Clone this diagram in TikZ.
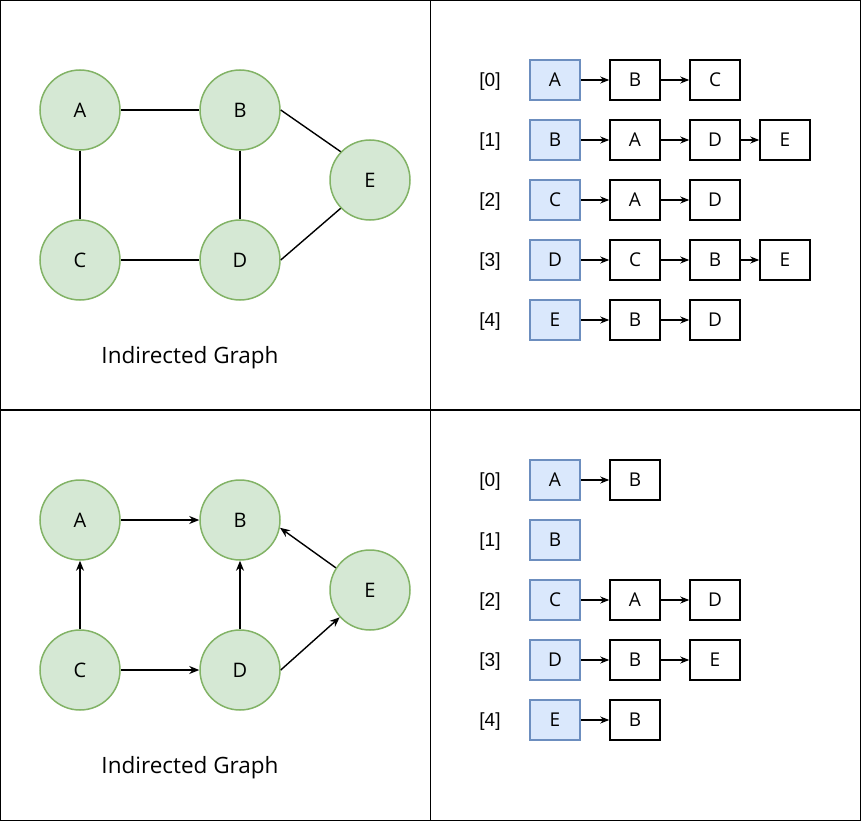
\documentclass[tikz,border=0pt]{standalone}
\usepackage{fontspec}
\setmainfont{Open Sans}
\newfontfamily\labfont{Liberation Sans}
\usetikzlibrary{arrows.meta}
\definecolor{gfill}{HTML}{D5E8D4}
\definecolor{gdraw}{HTML}{82B366}
\definecolor{bfill}{HTML}{DAE8FC}
\definecolor{bdraw}{HTML}{6C8EBF}
\tikzset{
  vert/.style={circle, minimum size=80pt, inner sep=0pt, fill=gfill, draw=gdraw, line width=1.5pt, font=\fontsize{20}{20}\selectfont},
  headbox/.style={rectangle, minimum width=50pt, minimum height=40pt, inner sep=0pt, fill=bfill, draw=bdraw, line width=1.5pt, font=\fontsize{19}{19}\selectfont},
  cellbox/.style={rectangle, minimum width=50pt, minimum height=40pt, inner sep=0pt, fill=white, draw=black, line width=1.5pt, font=\fontsize{19}{19}\selectfont},
  idx/.style={font=\labfont\fontsize{19}{19}\selectfont, inner sep=0pt, yshift=-2pt},
  captext/.style={font=\fontsize{22.5}{22.5}\selectfont, inner sep=0pt, yshift=-2pt},
  plainedge/.style={line width=1.4pt},
  darr/.style={line width=1.4pt, -{Stealth[length=10pt,width=8pt]}},
  larr/.style={line width=1.2pt, -{Stealth[length=9pt,width=7pt]}},
  frameline/.style={line width=1.3pt}
}
\begin{document}
\begin{tikzpicture}[x=1pt,y=-1pt]
\useasboundingbox (0,0) rectangle (861,821);
% frame
\draw[frameline] (0.7,0.7) rectangle (860.3,820.3);
\draw[frameline] (430.5,0.7) -- (430.5,820.3);
\draw[frameline] (0.7,410) -- (860.3,410);

% ---- top graph ----
\node[vert] (A1) at (80,110) {A};
\node[vert] (B1) at (240,110) {B};
\node[vert] (C1) at (80,260) {C};
\node[vert] (D1) at (240,260) {D};
\node[vert] (E1) at (370,180) {E};
\draw[plainedge] (A1) -- (B1);
\draw[plainedge] (A1) -- (C1);
\draw[plainedge] (B1) -- (D1);
\draw[plainedge] (C1) -- (D1);
\draw[plainedge] (B1.east) -- (E1.136);
\draw[plainedge] (D1.east) -- (E1.224);
\node[captext] (cap1) at (190,356) {Indirected Graph};

% ---- bottom graph ----
\node[vert] (A2) at (80,520) {A};
\node[vert] (B2) at (240,520) {B};
\node[vert] (C2) at (80,670) {C};
\node[vert] (D2) at (240,670) {D};
\node[vert] (E2) at (370,590) {E};
\draw[darr] (A2) -- (B2);
\draw[darr] (C2) -- (A2);
\draw[darr] (C2) -- (D2);
\draw[darr] (D2) -- (B2);
\draw[darr] (D2.east) -- (E2.222);
\draw[darr] (E2.147) -- (B2.-11);
\node[captext] (cap2) at (190,766) {Indirected Graph};

% ---- top lists ----
\node[idx] (i10) at (490,80) {[0]};
\node[headbox] (h10) at (555,80) {A};
\node[cellbox] (c10a) at (635,80) {B};
\node[cellbox] (c10b) at (715,80) {C};
\draw[larr] (h10) -- (c10a);
\draw[larr] (c10a) -- (c10b);

\node[idx] (i11) at (490,140) {[1]};
\node[headbox] (h11) at (555,140) {B};
\node[cellbox] (c11a) at (635,140) {A};
\node[cellbox] (c11b) at (715,140) {D};
\node[cellbox] (c11c) at (785,140) {E};
\draw[larr] (h11) -- (c11a);
\draw[larr] (c11a) -- (c11b);
\draw[larr] (c11b) -- (c11c);

\node[idx] (i12) at (490,200) {[2]};
\node[headbox] (h12) at (555,200) {C};
\node[cellbox] (c12a) at (635,200) {A};
\node[cellbox] (c12b) at (715,200) {D};
\draw[larr] (h12) -- (c12a);
\draw[larr] (c12a) -- (c12b);

\node[idx] (i13) at (490,260) {[3]};
\node[headbox] (h13) at (555,260) {D};
\node[cellbox] (c13a) at (635,260) {C};
\node[cellbox] (c13b) at (715,260) {B};
\node[cellbox] (c13c) at (785,260) {E};
\draw[larr] (h13) -- (c13a);
\draw[larr] (c13a) -- (c13b);
\draw[larr] (c13b) -- (c13c);

\node[idx] (i14) at (490,320) {[4]};
\node[headbox] (h14) at (555,320) {E};
\node[cellbox] (c14a) at (635,320) {B};
\node[cellbox] (c14b) at (715,320) {D};
\draw[larr] (h14) -- (c14a);
\draw[larr] (c14a) -- (c14b);

% ---- bottom lists ----
\node[idx] (i20) at (490,480) {[0]};
\node[headbox] (h20) at (555,480) {A};
\node[cellbox] (c20a) at (635,480) {B};
\draw[larr] (h20) -- (c20a);

\node[idx] (i21) at (490,540) {[1]};
\node[headbox] (h21) at (555,540) {B};

\node[idx] (i22) at (490,600) {[2]};
\node[headbox] (h22) at (555,600) {C};
\node[cellbox] (c22a) at (635,600) {A};
\node[cellbox] (c22b) at (715,600) {D};
\draw[larr] (h22) -- (c22a);
\draw[larr] (c22a) -- (c22b);

\node[idx] (i23) at (490,660) {[3]};
\node[headbox] (h23) at (555,660) {D};
\node[cellbox] (c23a) at (635,660) {B};
\node[cellbox] (c23b) at (715,660) {E};
\draw[larr] (h23) -- (c23a);
\draw[larr] (c23a) -- (c23b);

\node[idx] (i24) at (490,720) {[4]};
\node[headbox] (h24) at (555,720) {E};
\node[cellbox] (c24a) at (635,720) {B};
\draw[larr] (h24) -- (c24a);
\end{tikzpicture}
\end{document}
